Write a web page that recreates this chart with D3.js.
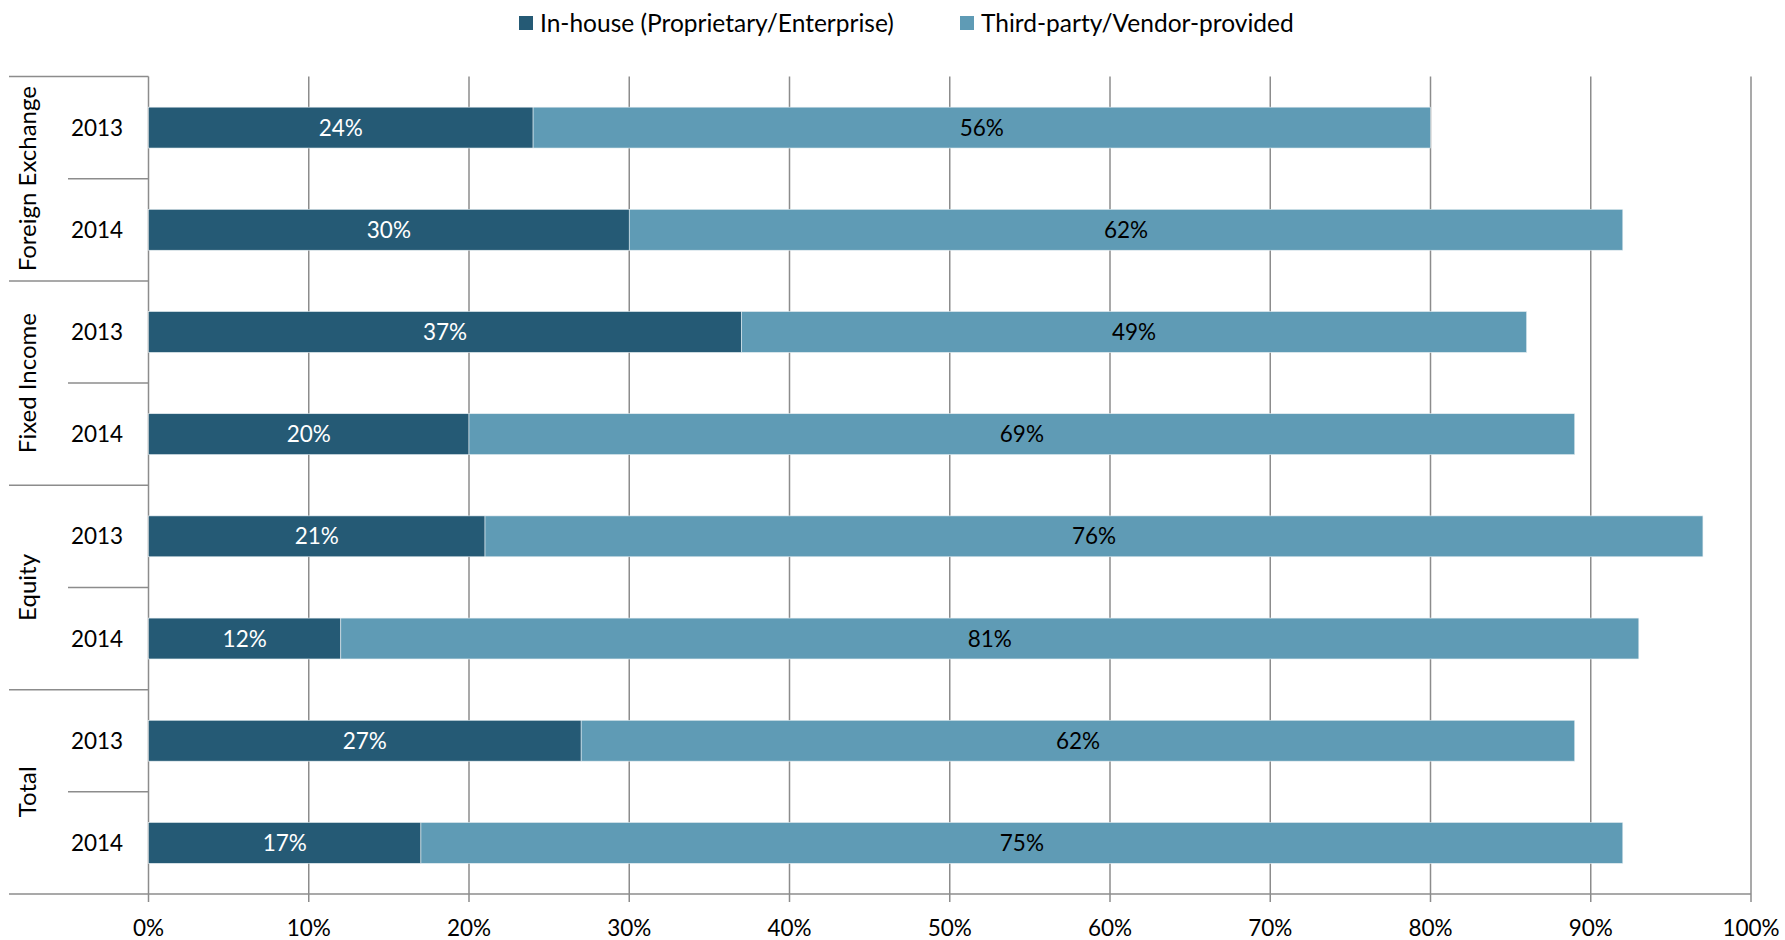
<!DOCTYPE html>
<html>
<head>
<meta charset="utf-8">
<script src="https://cdn.jsdelivr.net/npm/d3@7"></script>
<style>
  body { margin: 0; background: #fff; }
  text { font-family: Lato, "Open Sans", sans-serif; }
</style>
</head>
<body>
<svg id="chart" width="1785" height="940"></svg>
<script>
// Chart data
var categories = ["Foreign Exchange", "Fixed Income", "Equity", "Total"];
var years = ["2013", "2014"];
var inHouse = [24, 30, 37, 20, 21, 12, 27, 17];
var thirdParty = [56, 62, 49, 69, 76, 81, 62, 75];
var seriesNames = ["In-house (Proprietary/Enterprise)", "Third-party/Vendor-provided"];
var xTicks = [0, 10, 20, 30, 40, 50, 60, 70, 80, 90, 100];

var colors = ["#255a75", "#5f9bb5"];
var gridColor = "#8c8c8c";

var svg = d3.select("#chart");
// plot box (note: "top" is a reserved window global, so don't use it)
var plotLeft = 148.5, plotRight = 1751, plotTop = 76.5, plotBottom = 894;

// one row per category/year pair
var rows = [];
categories.forEach(function(c, ci) {
    years.forEach(function(yr, yi) {
        var i = ci * years.length + yi;
        rows.push({key: c + "|" + yr, cat: c, year: yr, a: inHouse[i], b: thirdParty[i]});
    });
});

var x = d3.scaleLinear().domain([0, 100]).range([plotLeft, plotRight]);
var y = d3.scaleBand().domain(rows.map(function(d) { return d.key; }))
    .range([plotTop, plotBottom]).paddingInner(0.6).paddingOuter(0.3);
var step = y.step();

// Vertical gridlines (with the little ticks below the axis)
svg.append("g").selectAll("line").data(xTicks).enter().append("line")
    .attr("x1", function(d) { return x(d); })
    .attr("x2", function(d) { return x(d); })
    .attr("y1", plotTop)
    .attr("y2", plotBottom + 8)
    .attr("stroke", gridColor)
    .attr("stroke-width", 1.5);

// Bars
var barG = svg.append("g");
rows.forEach(function(d) {
    var segs = [
        {x0: 0, x1: d.a, v: d.a, c: colors[0], t: "#fff"},
        {x0: d.a, x1: d.a + d.b, v: d.b, c: colors[1], t: "#000"}
    ];
    segs.forEach(function(s) {
        barG.append("rect")
            .attr("x", x(s.x0))
            .attr("y", y(d.key))
            .attr("width", x(s.x1) - x(s.x0))
            .attr("height", y.bandwidth())
            .attr("fill", s.c)
            .attr("stroke", "#e6eef2")
            .attr("stroke-width", 0.6);
        barG.append("text")
            .attr("x", (x(s.x0) + x(s.x1)) / 2)
            .attr("y", y(d.key) + y.bandwidth() / 2)
            .attr("dy", "0.36em")
            .attr("text-anchor", "middle")
            .attr("font-size", 22.5)
            .attr("fill", s.t)
            .text(s.v + "%");
    });
});

// Bottom axis line
svg.append("line")
    .attr("x1", 9).attr("x2", plotRight)
    .attr("y1", plotBottom).attr("y2", plotBottom)
    .attr("stroke", gridColor).attr("stroke-width", 1.5);

// X tick labels
svg.append("g").selectAll("text").data(xTicks).enter().append("text")
    .attr("x", function(d) { return x(d); })
    .attr("y", 928)
    .attr("dy", "0.36em")
    .attr("text-anchor", "middle")
    .attr("font-size", 22.5)
    .attr("fill", "#000")
    .text(function(d) { return d + "%"; });

// Left hierarchical axis: separators, years, categories
var lg = svg.append("g");
categories.forEach(function(c, ci) {
    var y0 = plotTop + ci * years.length * step;
    var y1 = y0 + years.length * step;
    lg.append("line")
        .attr("x1", 9).attr("x2", plotLeft)
        .attr("y1", y0).attr("y2", y0)
        .attr("stroke", gridColor).attr("stroke-width", 1.5);
    for (var k = 1; k < years.length; k++) {
        lg.append("line")
            .attr("x1", 68).attr("x2", plotLeft)
            .attr("y1", y0 + k * step).attr("y2", y0 + k * step)
            .attr("stroke", gridColor).attr("stroke-width", 1.5);
    }
    var cy = (y0 + y1) / 2;
    lg.append("text")
        .attr("transform", "translate(27," + cy + ") rotate(-90)")
        .attr("dy", "0.36em")
        .attr("text-anchor", "middle")
        .attr("font-size", 24)
        .attr("fill", "#000")
        .text(c);
});
rows.forEach(function(d) {
    lg.append("text")
        .attr("x", 97)
        .attr("y", y(d.key) + y.bandwidth() / 2)
        .attr("dy", "0.36em")
        .attr("text-anchor", "middle")
        .attr("font-size", 22.5)
        .attr("fill", "#000")
        .text(d.year);
});

// Legend
var legendX = [519, 960];
seriesNames.forEach(function(name, i) {
    var g = svg.append("g").attr("transform", "translate(" + legendX[i] + ",0)");
    g.append("rect")
        .attr("x", 0).attr("y", 16)
        .attr("width", 14).attr("height", 14)
        .attr("fill", colors[i]);
    g.append("text")
        .attr("x", 21).attr("y", 23)
        .attr("dy", "0.36em")
        .attr("font-size", 24.5)
        .attr("fill", "#000")
        .text(name);
});
</script>
</body>
</html>
